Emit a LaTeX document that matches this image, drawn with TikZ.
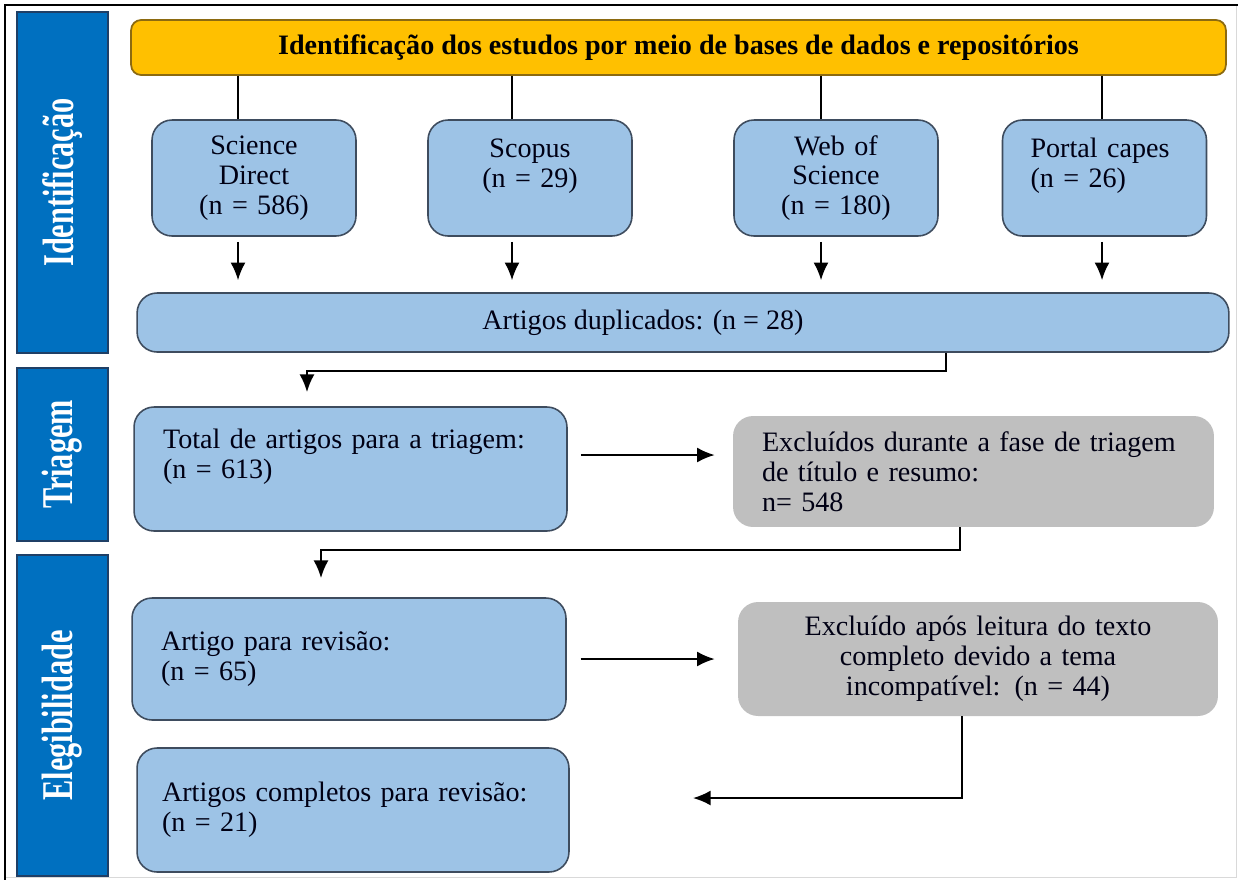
\documentclass[tikz,border=0pt]{standalone}
\usepackage{fontspec}
\setmainfont{Liberation Serif}
\newfontfamily\narrowbold[FakeStretch=0.69]{Liberation Serif Bold}
\usetikzlibrary{arrows.meta}
\definecolor{boxblue}{HTML}{9DC3E6}
\definecolor{boxedge}{HTML}{3E4C5E}
\definecolor{sideblue}{HTML}{0070C0}
\definecolor{sideedge}{HTML}{1F3F66}
\definecolor{headfill}{HTML}{FFC000}
\definecolor{headedge}{HTML}{8C6A10}
\definecolor{greyfill}{HTML}{BFBFBF}
\colorlet{ink}{black!92!blue}
\tikzset{
	txt/.style={text=ink,font=\fontsize{16}{17}\selectfont},
	side/.style={draw=sideedge,fill=sideblue,line width=0.8pt,rotate=90,minimum height=1.82cm,
		text=white,font=\narrowbold\fontsize{25}{25}\selectfont},
	head/.style={draw=headedge,fill=headfill,rounded corners=0.2cm,line width=1pt,
		minimum width=21.9cm,minimum height=1.1cm,font=\bfseries\fontsize{16}{17}\selectfont},
	bluebox/.style={txt,draw=boxedge,fill=boxblue,rounded corners=0.4cm,line width=0.9pt,inner sep=0pt},
	greybox/.style={txt,fill=greyfill,rounded corners=0.4cm,inner sep=0pt},
	srcbox/.style={bluebox,minimum width=4.08cm,minimum height=2.32cm,text width=3.2cm,align=center},
	arr/.style={-{Latex[length=10pt,width=8.5pt]},line width=1.1pt},
	link/.style={line width=1.1pt}
}

\begin{document}
\begin{tikzpicture}[x=0.02cm,y=-0.02cm]
	\useasboundingbox (0,0) rectangle (1238,880);
	\draw[black!15] (5,877) -- (1236,877) -- (1236,5);
	\draw[line width=1.4pt] (1238,5) -- (5,5) -- (5,880);

	\node[side,minimum width=6.82cm] (idl) at (62.5,182.5) {Identificação};
	\node[side,minimum width=3.46cm] (tri) at (62.5,454.5) {Triagem};
	\node[side,minimum width=6.42cm] (ele) at (62.5,715.5) {Elegibilidade};

	\node[head] (head) at (678.5,47.5) {Identificação dos estudos por meio de bases de dados e repositórios};

	\node[srcbox] (sd) at (254,178) {Science\\Direct\\(n = 586)};
	\node[srcbox] (sc) at (530,178) {Scopus\\(n = 29)\\\mbox{}};
	\node[srcbox] (ws) at (836,178) {Web of\\Science\\(n = 180)};
	\node[srcbox,text width=2.96cm,align=left] (pc) at (1104.5,178) {Portal capes\\(n = 26)\\\mbox{}};

	\node[bluebox,minimum width=21.84cm,minimum height=1.18cm,
		label={[txt,xshift=-0.8cm]center:{Artigos duplicados: (n = 28)}}] (dup) at (683,322.5) {};

	\node[bluebox,minimum width=8.66cm,minimum height=2.48cm,text width=7.5cm,align=left] (tot) at (350.5,469)
		{Total de artigos para a triagem:\\(n = 613)\\\mbox{}};
	\node[greybox,minimum width=9.62cm,minimum height=2.22cm,text width=8.46cm,align=left] (exc1) at (973.5,471.5)
		{Excluídos durante a fase de triagem\\de título e resumo:\\n= 548};

	\node[bluebox,minimum width=8.68cm,minimum height=2.44cm,text width=7.52cm,align=left] (rev) at (349,659)
		{Artigo para revisão:\\(n = 65)};
	\node[greybox,minimum width=9.6cm,minimum height=2.28cm,text width=8.44cm,align=center] (exc2) at (978,659)
		{Excluído após leitura do texto\\completo devido a tema\\incompatível: (n = 44)};

	\node[bluebox,minimum width=8.64cm,minimum height=2.48cm,text width=7.64cm,align=left] (fin) at (353,810)
		{Artigos completos para revisão:\\(n = 21)};

	\coordinate (c1) at (238,0);
	\coordinate (c2) at (512,0);
	\coordinate (c3) at (821,0);
	\coordinate (c4) at (1102,0);
	\foreach \c/\b in {c1/sd,c2/sc,c3/ws,c4/pc} {
		\draw[link] (head.south -| \c) -- (\b.north -| \c);
		\draw[arr,shorten <=0.1cm,shorten >=0.24cm] (\b.south -| \c) -- (dup.north -| \c);
	}

	\coordinate (k1) at (946,371);
	\coordinate (k2) at (307,392);
	\draw[arr,line width=1pt] (dup.south -| k1) -- (k1) -| (k2);

	\coordinate (r1) at (0,455);
	\draw[arr,shorten <=0.26cm,shorten >=0.36cm] (tot.east |- r1) -- (exc1.west |- r1);

	\coordinate (k3) at (960,550);
	\coordinate (k4) at (321,578);
	\draw[arr,line width=1pt] (exc1.south -| k3) -- (k3) -| (k4);

	\draw[arr,shorten <=0.28cm,shorten >=0.46cm] (rev.east) -- (exc2.west);

	\coordinate (k5) at (962,798);
	\coordinate (k6) at (693,798);
	\draw[arr] (exc2.south -| k5) -- (k5) -- (k6);
\end{tikzpicture}
\end{document}
